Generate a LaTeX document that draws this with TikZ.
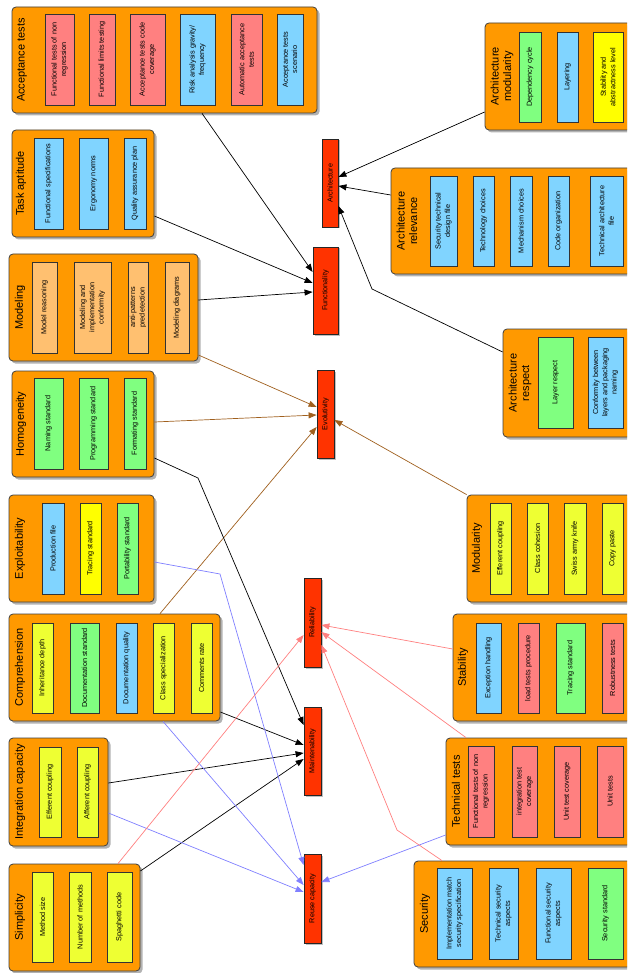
\documentclass[tikz,border=0pt]{standalone}
\usepackage{fontspec}
\setmainfont{Liberation Sans}
\usetikzlibrary{shadows,arrows.meta}
\definecolor{grpc}{HTML}{FF9900}
\definecolor{pinkc}{HTML}{FF8080}
\definecolor{bluec}{HTML}{80D4FF}
\definecolor{greenc}{HTML}{80FF80}
\definecolor{yellowc}{HTML}{FFFF00}
\definecolor{limec}{HTML}{EEFF33}
\definecolor{lorangec}{HTML}{FFC070}
\definecolor{redc}{HTML}{FF3300}
\definecolor{brownc}{HTML}{A0601E}
\definecolor{bluel}{HTML}{8080FF}
\definecolor{pinkl}{HTML}{FF8080}
\tikzset{
  grpbox/.style={draw=black!75, fill=grpc, rounded corners=4pt, line width=0.8pt, inner sep=0pt,
    drop shadow={shadow xshift=2.5pt, shadow yshift=-2.5pt, opacity=0.3, fill=black}},
  itembox/.style={draw=black!80, line width=0.7pt, rotate=90, inner sep=1pt, align=center,
    font=\fontsize{7.3}{9.3}\selectfont, text=black},
  titletext/.style={rotate=90, align=center, font=\fontsize{11}{12.5}\selectfont, inner sep=0pt},
  redbox/.style={draw=black!85, fill=redc, line width=0.8pt, inner sep=0pt,
    font=\fontsize{7.2}{8}\selectfont, drop shadow={shadow xshift=1.5pt, shadow yshift=-1.5pt, opacity=0.25, fill=black}},
  conn/.style={line width=0.7pt, -{Triangle[length=8pt,width=6pt]}},
  blk/.style={conn, draw=black},
  brn/.style={conn, draw=brownc},
  blu/.style={conn, draw=bluel},
  pnk/.style={conn, draw=pinkl},
}
\newcommand\mkgrp[5]{\node[grpbox, minimum width={(#4-#2)*1pt}, minimum height={(#5-#3)*1pt}] (#1) at ({(#2+#4)/2},{(#3+#5)/2}) {};}
\newcommand\mkitem[7]{\node[itembox, fill=#6, minimum width={(#5-#3)*1pt}, minimum height={(#4-#2)*1pt}] (#1) at ({(#2+#4)/2},{(#3+#5)/2}) {#7};}
\newcommand\mktitle[4]{\node[titletext] (#1) at (#2,#3) {#4};}
\newcommand\mkred[6]{\node[redbox, minimum width={(#4-#2)*1pt}, minimum height={(#5-#3)*1pt}] (#1) at ({(#2+#4)/2},{(#3+#5)/2}) {\rotatebox{90}{#6}};}
\begin{document}
\begin{tikzpicture}[x=1pt,y=-1pt]
\useasboundingbox (0,0) rectangle (627,973);
\clip (0,0) rectangle (627,973);
\fill[white] (0,0) rectangle (627,973);

% ---- Acceptance tests
\mkgrp{acc}{12}{7}{317}{113}
\mktitle{acct}{22}{60}{Acceptance tests}
\mkitem{a1}{45}{14}{74}{105}{pinkc}{Functional tests of non\\regression}
\mkitem{a2}{89}{14}{115}{105}{pinkc}{Functional limits testing}
\mkitem{a3}{130}{14}{165}{105}{pinkc}{Acceptance tests code\\coverage}
\mkitem{a4}{180}{14}{215}{105}{bluec}{Risk analysis gravity/\\frequency}
\mkitem{a5}{231}{14}{262}{105}{pinkc}{Automatic acceptance\\tests}
\mkitem{a6}{277}{14}{303}{105}{bluec}{Acceptance tests\\scenario}

% ---- Task aptitude
\mkgrp{task}{12}{130}{154}{237}
\mktitle{taskt}{21}{183.5}{Task aptitude}
\mkitem{t1}{34}{138}{63}{229}{bluec}{Functional specifications}
\mkitem{t2}{79}{138}{108}{229}{bluec}{Ergonomy norms}
\mkitem{t3}{124}{138}{146}{229}{bluec}{Quality assurance plan}

% ---- Modeling
\mkgrp{model}{9}{254}{198}{361}
\mktitle{modelt}{20}{307.5}{Modeling}
\mkitem{m1}{32}{262}{57}{353}{lorangec}{Model reasoning}
\mkitem{m2}{74}{262}{111}{353}{lorangec}{Modeling and\\implementation\\conformity}
\mkitem{m3}{128}{262}{148}{353}{lorangec}{anti-patterns\\predetection}
\mkitem{m4}{165}{262}{189}{353}{lorangec}{Modeling diagrams}

% ---- Homogeneity
\mkgrp{homog}{12}{371}{154}{477}
\mktitle{homogt}{21}{424}{Homogeneity}
\mkitem{h1}{34}{378}{63}{469}{greenc}{Naming standard}
\mkitem{h2}{79}{378}{108}{469}{greenc}{Programming standard}
\mkitem{h3}{124}{378}{146}{469}{greenc}{Formating standard}

% ---- Exploitability
\mkgrp{exploit}{9}{495}{154}{602}
\mktitle{exploitt}{20}{548.5}{Exploitability}
\mkitem{e1}{42}{503}{64}{594}{bluec}{Production file}
\mkitem{e2}{80}{503}{101}{594}{yellowc}{Tracing standard}
\mkitem{e3}{117}{503}{138}{594}{greenc}{Portability standard}

% ---- Comprehension
\mkgrp{compr}{9}{614}{220}{721}
\mktitle{comprt}{20}{667.5}{Comprehension}
\mkitem{c1}{32}{623}{53}{713}{limec}{Inheritance depth}
\mkitem{c2}{70}{623}{99}{713}{greenc}{Documentation standard}
\mkitem{c3}{116}{623}{137}{713}{bluec}{Documentation quality}
\mkitem{c4}{153}{623}{174}{713}{limec}{Class specialization}
\mkitem{c5}{191}{623}{212}{713}{limec}{Comments rate}

% ---- Integration capacity
\mkgrp{integ}{9}{738}{108}{846}
\mktitle{integt}{20}{792}{Integration capacity}
\mkitem{i1}{39}{747}{61}{837}{limec}{Efferent coupling}
\mkitem{i2}{77}{747}{98}{837}{limec}{Afferent coupling}

% ---- Simplicity
\mkgrp{simpl}{9}{864}{140}{971}
\mktitle{simplt}{20}{917.5}{Simplicity}
\mkitem{s1}{32}{872}{53}{962}{limec}{Method size}
\mkitem{s2}{69}{872}{91}{962}{limec}{Number of methods}
\mkitem{s3}{107}{872}{132}{962}{limec}{Spaghetti code}

% ---- Architecture modularity
\mkgrp{amod}{485}{23}{634}{130}
\mktitle{amodt}{502}{76.5}{Architecture\\modularity}
\mkitem{am1}{519}{32}{541}{122}{greenc}{Dependency cycle}
\mkitem{am2}{557}{32}{578}{122}{bluec}{Layering}
\mkitem{am3}{593}{32}{623}{122}{yellowc}{Stability and\\abstractness level}

% ---- Architecture relevance
\mkgrp{arel}{391}{168}{634}{274}
\mktitle{arelt}{407}{221}{Architecture\\relevance}
\mkitem{ar1}{430}{176}{457}{266}{bluec}{Security technical\\design file}
\mkitem{ar2}{473}{176}{494}{266}{bluec}{Technology choices}
\mkitem{ar3}{510}{176}{532}{266}{bluec}{Mechanism choices}
\mkitem{ar4}{548}{176}{569}{266}{bluec}{Code organization}
\mkitem{ar5}{590}{176}{623}{266}{bluec}{Technical architecture\\file}

% ---- Architecture respect
\mkgrp{aresp}{503}{329}{634}{437}
\mktitle{arespt}{520}{383}{Architecture\\respect}
\mkitem{ap1}{538}{337}{573}{428}{greenc}{Layer respect}
\mkitem{ap2}{588}{337}{623}{428}{bluec}{Conformity between\\layers and packaging\\naming}

% ---- Modularity
\mkgrp{modul}{467}{495}{634}{602}
\mktitle{modult}{477}{548.5}{Modularity}
\mkitem{mo1}{490}{503}{511}{594}{limec}{Efferent coupling}
\mkitem{mo2}{527}{503}{548}{594}{limec}{Class cohesion}
\mkitem{mo3}{564}{503}{586}{594}{limec}{Swiss army knife}
\mkitem{mo4}{602}{503}{623}{594}{limec}{Copy paste}

% ---- Stability
\mkgrp{stab}{453}{614}{634}{721}
\mktitle{stabt}{463}{667.5}{Stability}
\mkitem{st1}{476}{623}{501}{713}{bluec}{Exception handling}
\mkitem{st2}{518}{623}{539}{713}{pinkc}{load tests procedure}
\mkitem{st3}{556}{623}{585}{713}{greenc}{Tracing standard}
\mkitem{st4}{602}{623}{623}{713}{pinkc}{Robustness tests}

% ---- Technical tests
\mkgrp{tech}{446}{738}{634}{845}
\mktitle{techt}{456}{791.5}{Technical tests}
\mkitem{tt1}{468}{746}{494}{837}{pinkc}{Functional tests of non\\regression}
\mkitem{tt2}{512}{746}{537}{837}{pinkc}{integration test\\coverage}
\mkitem{tt3}{554}{746}{580}{837}{pinkc}{Unit test coverage}
\mkitem{tt4}{597}{746}{623}{837}{pinkc}{Unit tests}

% ---- Security
\mkgrp{secu}{414}{861}{634}{967}
\mktitle{secut}{425}{914}{Security}
\mkitem{se1}{437}{868}{472}{959}{bluec}{Implementation match\\security specification}
\mkitem{se2}{489}{868}{518}{959}{bluec}{Technical security\\aspects}
\mkitem{se3}{536}{868}{571}{959}{bluec}{Functional security\\aspects}
\mkitem{se4}{588}{868}{623}{959}{greenc}{Security standard}

% ---- Central qualities
\mkred{arch}{322}{139}{338}{227}{Architecture}
\mkred{func}{313}{247}{338}{334}{Functionality}
\mkred{evol}{317}{370}{334}{458}{Evolutivity}
\mkred{rel}{304}{578}{321}{667}{Reliability}
\mkred{maint}{304}{707}{321}{795}{Maintenability}
\mkred{reuse}{304}{854}{321}{943}{Reuse capacity}

% ---- bend points
\coordinate (bendR) at (372,289);
\coordinate (bendH) at (198,478);
\coordinate (bendE) at (220,574);
\coordinate (bendS) at (397,830);

% ---- connectors
\draw[blk] (amod.west |- 0,112) -- (arch.east |- 0,177);
\draw[blk] (arel.west |- 0,195) -- (arch.east |- 0,186);
\draw[blk] (aresp.west |- 0,352) -- (bendR) -- (arch.east |- 0,206);
\draw[blk] (acc.south -| 202,0) -- (func.west |- 0,272);
\draw[blk] (task.east |- 0,216) -- (func.west |- 0,283);
\draw[blk] (model.east |- 0,300) -- (func.west |- 0,292);
\draw[brn] (model.east |- 0,355) -- (evol.west |- 0,407);
\draw[brn] (homog.east |- 0,422) -- (evol.west |- 0,415);
\draw[brn] (compr.north -| 160,0) -- (evol.west |- 0,427);
\draw[brn] (modul.north west) -- (evol.east |- 0,420);
\draw[blk] (homog.east |- 0,458) -- (bendH) -- (maint.west |- 0,725);
\draw[blk] (compr.east |- 0,712) -- (maint.west |- 0,745);
\draw[blk] (integ.east |- 0,783) -- (maint.west |- 0,753);
\draw[blk] (simpl.east |- 0,871) -- (maint.west |- 0,759);
\draw[blu] (exploit.east |- 0,562) -- (bendE) -- (reuse.west |- 0,865);
\draw[blu] (compr.south -| 163,0) -- (reuse.west |- 0,885);
\draw[blu] (integ.east |- 0,813) -- (reuse.west |- 0,892);
\draw[blu] (tech.west |- 0,835) -- (reuse.east |- 0,882);
\draw[pnk] (simpl.north -| 118,0) -- (rel.west |- 0,635);
\draw[pnk] (stab.west |- 0,649) -- (rel.east |- 0,625);
\draw[pnk] (tech.north -| 466,0) -- (rel.east |- 0,632);
\draw[pnk] (secu.north -| 442,0) -- (bendS) -- (rel.east |- 0,645);
\end{tikzpicture}
\end{document}
